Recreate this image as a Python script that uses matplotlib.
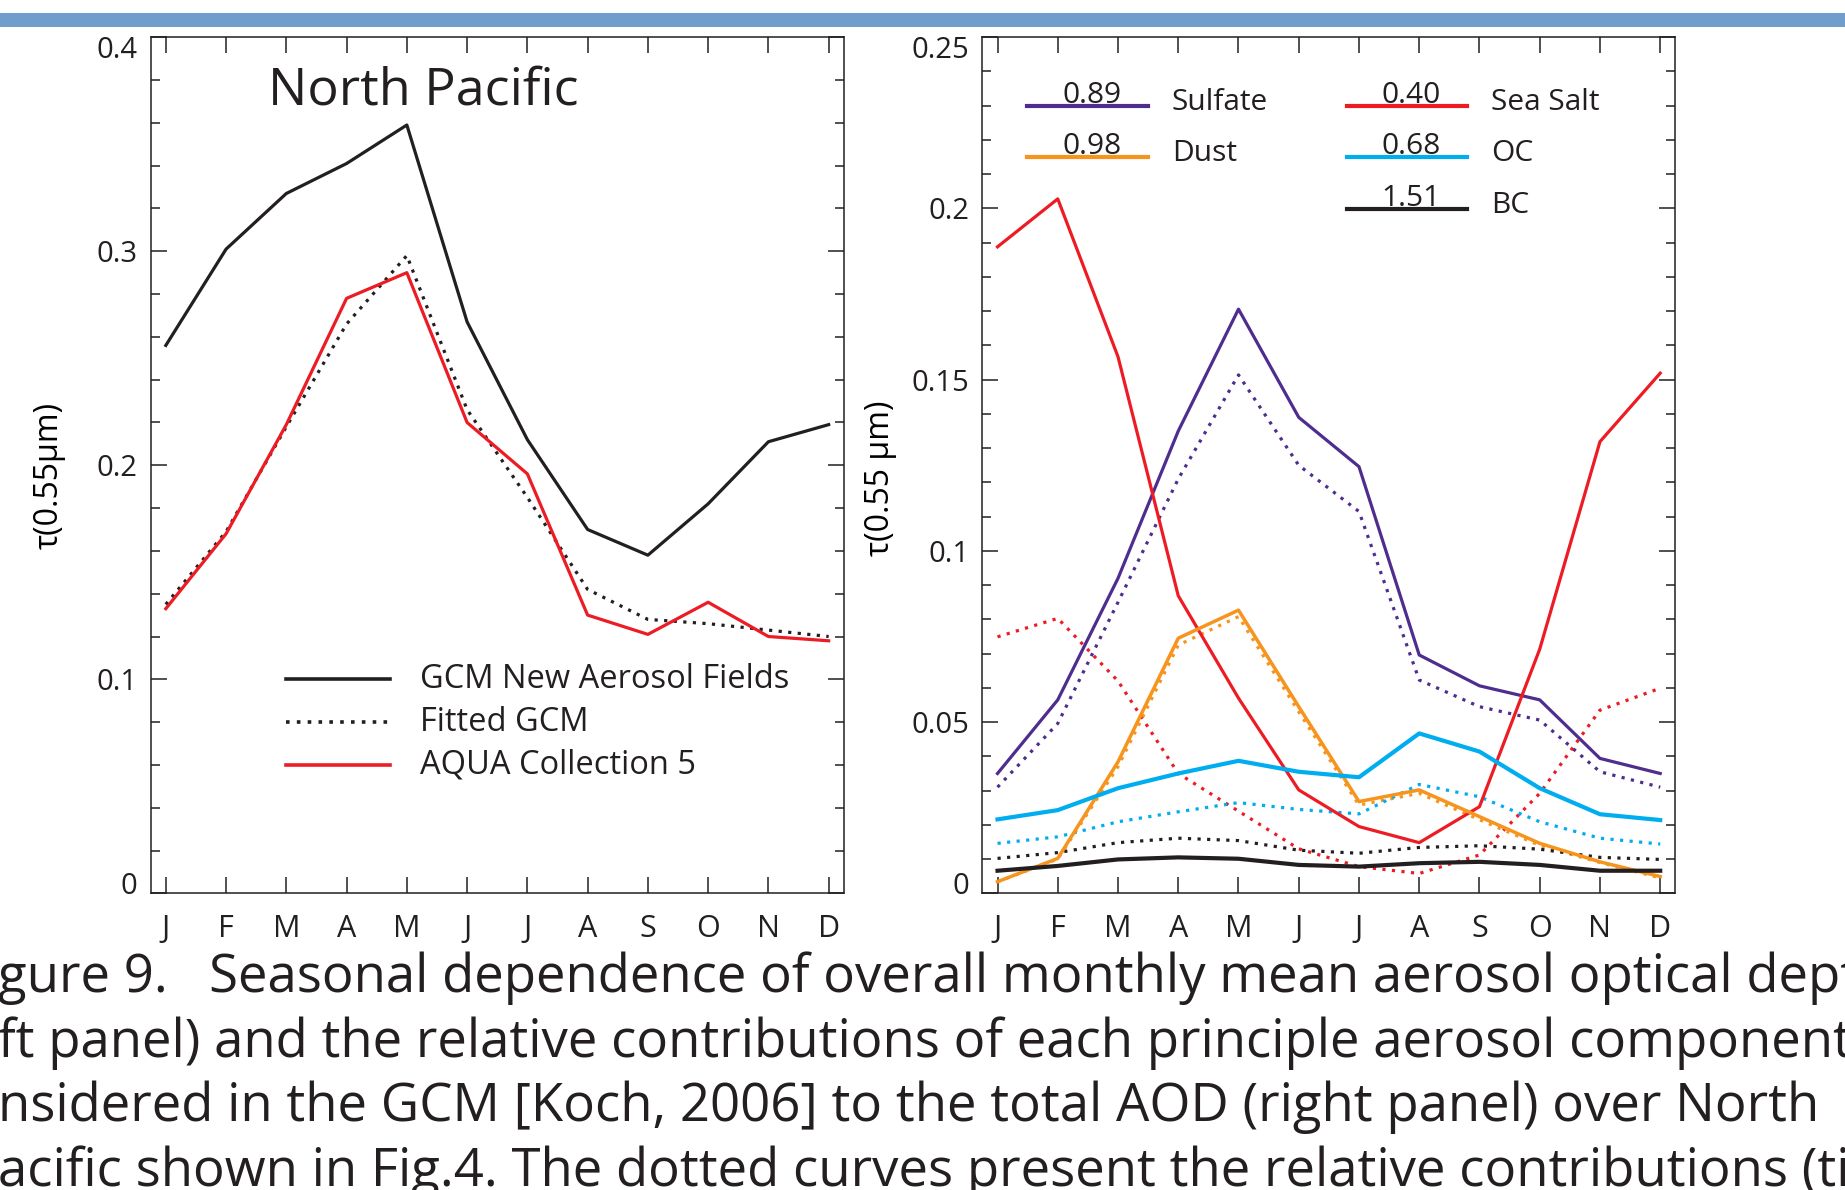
import numpy as np
import matplotlib
matplotlib.use("Agg")
from matplotlib import pyplot as plt
from matplotlib.patches import Rectangle
from matplotlib.ticker import MultipleLocator, FuncFormatter
from matplotlib.transforms import ScaledTranslation

plt.rcParams['font.family'] = ['Open Sans', 'DejaVu Sans']
plt.rcParams['text.color'] = '#231f20'

months = ['J', 'F', 'M', 'A', 'M', 'J', 'J', 'A', 'S', 'O', 'N', 'D']
month_idx = np.arange(1, 13)

# total AOD, North Pacific
gcm_new = [0.256, 0.301, 0.327, 0.341, 0.359, 0.267, 0.212, 0.170, 0.158, 0.182, 0.211, 0.219]
gcm_fitted = [0.135, 0.169, 0.218, 0.266, 0.298, 0.226, 0.185, 0.142, 0.128, 0.126, 0.123, 0.120]
aqua_c5 = [0.133, 0.168, 0.219, 0.278, 0.290, 0.220, 0.196, 0.130, 0.121, 0.136, 0.120, 0.118]

# component AOD (GCM) and fitted component AOD
sulfate = [0.035, 0.0565, 0.092, 0.135, 0.1706, 0.139, 0.1246, 0.0696, 0.0606, 0.0565, 0.0394, 0.035]
sulfate_fit = [0.031, 0.0496, 0.085, 0.121, 0.1514, 0.125, 0.1115, 0.0623, 0.0545, 0.0506, 0.0355, 0.031]
seasalt = [0.1888, 0.2028, 0.1567, 0.0869, 0.057, 0.0302, 0.0195, 0.0148, 0.0253, 0.0713, 0.1319, 0.1519]
seasalt_fit = [0.0749, 0.0803, 0.062, 0.035, 0.024, 0.013, 0.0078, 0.0058, 0.0112, 0.0292, 0.0535, 0.0599]
dust = [0.0034, 0.0102, 0.0384, 0.0745, 0.0827, 0.0545, 0.0268, 0.0302, 0.0224, 0.0146, 0.0092, 0.0049]
dust_fit = [0.0034, 0.0100, 0.037, 0.0725, 0.0808, 0.053, 0.0258, 0.0292, 0.0215, 0.014, 0.009, 0.0045]
oc = [0.0216, 0.0243, 0.0307, 0.035, 0.0387, 0.0355, 0.0339, 0.0467, 0.0414, 0.0307, 0.0231, 0.0214]
oc_fit = [0.0146, 0.0165, 0.0209, 0.0238, 0.0265, 0.0245, 0.0232, 0.0318, 0.0282, 0.0209, 0.0161, 0.0144]
bc = [0.0066, 0.008, 0.0099, 0.0105, 0.0101, 0.0083, 0.0078, 0.0088, 0.0092, 0.0083, 0.0066, 0.0066]
bc_fit = [0.0102, 0.0119, 0.0148, 0.0161, 0.0154, 0.0126, 0.0117, 0.0134, 0.0139, 0.0129, 0.0105, 0.0099]

fit_factors = ['0.89', '0.40', '0.98', '0.68', '1.51']
component_names = ['Sulfate', 'Sea Salt', 'Dust', 'OC', 'BC']

left_yticks = [0, 0.1, 0.2, 0.3, 0.4]
right_yticks = [0, 0.05, 0.1, 0.15, 0.2, 0.25]

BLACK = '#231f20'
RED = '#ed1c24'
PURPLE = '#4f2d8f'
ORANGE = '#f7941d'
CYAN = '#00aeef'


def style_axes(ax, yticks, yminor):
    ax.set_xlim(0.75, 12.25)
    ax.set_ylim(yticks[0], yticks[-1])
    ax.set_xticks(month_idx)
    ax.set_xticklabels(months)
    ax.set_yticks(yticks)
    ax.yaxis.set_minor_locator(MultipleLocator(yminor))
    ax.yaxis.set_major_formatter(FuncFormatter(lambda v, p: '%g' % round(v, 3)))
    ax.tick_params(which='both', direction='in', top=True, right=True, width=1.1, color=BLACK)
    ax.tick_params(which='major', length=11.5)
    ax.tick_params(which='minor', length=6.5)
    ax.tick_params(axis='x', pad=15, labelsize=22, labelcolor=BLACK)
    ax.tick_params(axis='y', pad=9.5, labelsize=21, labelcolor=BLACK)
    for s in ax.spines.values():
        s.set_linewidth(1.1)
        s.set_color(BLACK)
    # end labels sit inside the frame rather than centred on the end ticks
    ticks = ax.yaxis.get_major_ticks()
    lab0, lab1 = ticks[0].label1, ticks[-1].label1
    lab0.set_transform(lab0.get_transform() + ScaledTranslation(0, 0.10, fig.dpi_scale_trans))
    lab1.set_transform(lab1.get_transform() + ScaledTranslation(0, -0.095, fig.dpi_scale_trans))


fig = plt.figure(figsize=(18.45, 11.9), dpi=100)
fig.add_artist(Rectangle((0, 1 - 26.7 / 1190), 1, 13.4 / 1190, transform=fig.transFigure,
                         facecolor='#6f9dcc', edgecolor='none'))

# ---- left panel ----
ax1 = fig.add_axes([0.0817, 0.2493, 0.3756, 0.7194])
ax1.plot(month_idx, gcm_new, color=BLACK, lw=2.3)
ax1.plot(month_idx, gcm_fitted, color=BLACK, lw=2.3, ls=(0, (1, 2)))
ax1.plot(month_idx, aqua_c5, color=RED, lw=2.3)
style_axes(ax1, left_yticks, 0.02)
ax1.set_ylabel('τ(0.55μm)', fontsize=23)
ax1.yaxis.set_label_coords(-0.123, 0.488)
ax1.text(0.393, 0.937, 'North Pacific', transform=ax1.transAxes, ha='center', va='center', fontsize=37.5)

left_keys = [('GCM New Aerosol Fields', BLACK, '-'),
             ('Fitted GCM', BLACK, (0, (1, 2))),
             ('AQUA Collection 5', RED, '-')]
for i, (lab, col, ls) in enumerate(left_keys):
    y = 0.25 - 0.05 * i
    ax1.plot([0.195, 0.345], [y, y], transform=ax1.transAxes, color=col, lw=2.6, ls=ls)
    ax1.text(0.388, y, lab, transform=ax1.transAxes, ha='left', va='center', fontsize=23.5)

# ---- right panel ----
ax2 = fig.add_axes([0.5325, 0.2493, 0.3755, 0.7194])
comps = [(sulfate, sulfate_fit, PURPLE, 2.3),
         (seasalt, seasalt_fit, RED, 2.3),
         (dust, dust_fit, ORANGE, 2.5),
         (oc, oc_fit, CYAN, 3.0),
         (bc, bc_fit, BLACK, 3.0)]
for vals, fit, col, lw in comps:
    ax2.plot(month_idx, fit, color=col, lw=2.3, ls=(0, (1, 2)))
for vals, fit, col, lw in comps:
    ax2.plot(month_idx, vals, color=col, lw=lw)
style_axes(ax2, right_yticks, 0.01)
ax2.set_ylabel('τ(0.55 μm)', fontsize=23)
ax2.yaxis.set_label_coords(-0.1235, 0.485)

# key: col, row for each component
key_pos = [(0, 0), (1, 0), (0, 1), (1, 1), (1, 2)]
col_line = [(0.065, 0.2385), (0.5267, 0.70)]
col_num = [0.158, 0.6185]
col_lab = [0.2735, 0.734]
row_y = [0.9197, 0.8602, 0.7998]
for (c, r), name, fac, (_, _, col, _) in zip(key_pos, component_names, fit_factors, comps):
    y = row_y[r]
    ax2.plot(col_line[c], [y, y], transform=ax2.transAxes, color=col, lw=3.0)
    ax2.text(col_num[c], y + 0.003, fac, transform=ax2.transAxes, ha='center', va='baseline', fontsize=21.5)
    ax2.text(col_lab[c], y - 0.0047, name, transform=ax2.transAxes, ha='left', va='baseline', fontsize=21.5)

# caption lines, cut off at the page edges
caption = ['gure 9.   Seasonal dependence of overall monthly mean aerosol optical depth',
           'ft panel) and the relative contributions of each principle aerosol components',
           'nsidered in the GCM [Koch, 2006] to the total AOD (right panel) over North',
           'acific shown in Fig.4. The dotted curves present the relative contributions (times']
baselines = [992, 1057, 1121, 1186]
for line, yb in zip(caption, baselines):
    fig.text(-0.001, 1 - yb / 1190, line, ha='left', va='baseline', fontsize=38)

fig.savefig('out.png', dpi=100)
